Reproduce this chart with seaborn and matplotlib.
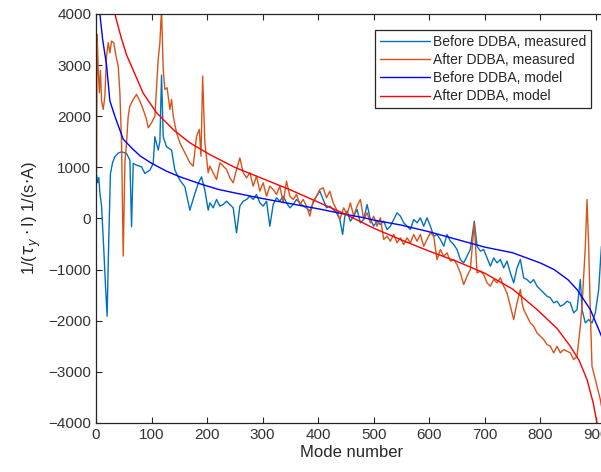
import numpy as np
import pandas as pd
import matplotlib
matplotlib.use('Agg')
import matplotlib.pyplot as plt
import seaborn as sns

# values (mode number, 1/(tau_y I))
before_meas_mode = [1, 3, 5, 7, 10, 14, 17, 20, 23, 26, 30, 34, 40, 46, 55, 61, 64, 67, 73, 82,
                    88, 97, 103, 106, 112, 115, 118, 121, 127, 136, 142, 151, 160, 169, 178, 184, 190, 196, 202, 205,
                    211, 217, 223, 229, 235, 241, 247, 253, 259, 265, 271, 277, 283, 289, 295, 301, 307, 313, 319, 325,
                    331, 337, 343, 349, 355, 361, 367, 373, 379, 385, 391, 397, 403, 409, 415, 421, 427, 433, 439, 444,
                    448, 452, 458, 464, 470, 476, 482, 488, 494, 500, 506, 512, 518, 524, 530, 536, 542, 548, 554, 560,
                    566, 572, 578, 584, 590, 596, 602, 608, 614, 620, 626, 632, 638, 644, 650, 656, 662, 668, 674, 681,
                    686, 692, 698, 704, 710, 716, 722, 728, 734, 740, 746, 752, 758, 764, 770, 776, 782, 788, 794, 800,
                    806, 812, 818, 824, 830, 836, 842, 848, 854, 860, 866, 872, 875, 881, 887, 893, 899, 905, 910]
before_meas_val = [861, 700, 800, 500, 241, -600, -1300, -1911, -400, 880, 1100, 1207, 1280, 1305, 1272, 1142, -162, 1077, 1044, 1011,
                   881, 946, 1077, 1599, 1338, 1500, 2805, 1599, 1403, 1338, 946, 750, 620, 163, 489, 685, 815, 554, 163, 307,
                   209, 372, 242, 274, 339, 274, 209, -280, 242, 339, 372, 437, 372, 470, 307, 242, 339, -151, 274, 405,
                   339, 437, 307, 209, 274, 372, 307, 242, 209, 144, 307, 437, 535, 372, 209, 242, 176, 111, -19, -313,
                   46, 144, -52, 46, 176, -85, -19, 274, -19, -150, -52, -118, -52, -215, -150, -19, 111, 46, -85, -150,
                   -215, -19, -85, 13, -150, 13, -150, -346, -313, -411, -542, -313, -444, -509, -607, -803, -868, -738, -600, -52,
                   -541, -639, -606, -770, -933, -770, -868, -802, -966, -835, -1063, -1259, -966, -802, -1161, -1194, -1259, -1194, -1324, -1389,
                   -1455, -1520, -1553, -1650, -1618, -1716, -1683, -1618, -1650, -1846, -1781, -1194, -1781, -2042, -1977, -2042, -1846, -1389, -541]

after_meas_mode = [1, 2, 4, 6, 8, 10, 13, 16, 19, 22, 25, 28, 32, 36, 40, 43, 46, 49, 52, 55,
                   58, 61, 67, 73, 79, 85, 91, 94, 100, 106, 112, 115, 118, 121, 124, 128, 133, 136, 139, 145,
                   151, 157, 163, 169, 175, 181, 186, 189, 192, 196, 202, 205, 211, 217, 223, 229, 235, 241, 247, 253,
                   259, 265, 271, 277, 283, 289, 295, 301, 307, 313, 319, 325, 331, 337, 343, 349, 355, 361, 367, 373,
                   379, 385, 391, 397, 403, 409, 415, 421, 427, 433, 439, 446, 452, 458, 464, 470, 476, 482, 488, 494,
                   500, 506, 512, 518, 524, 530, 536, 542, 548, 554, 560, 566, 572, 578, 584, 590, 596, 602, 608, 614,
                   620, 626, 632, 638, 644, 650, 656, 662, 668, 674, 681, 686, 692, 698, 704, 710, 716, 722, 728, 734,
                   740, 746, 752, 758, 764, 768, 770, 776, 782, 788, 794, 800, 806, 812, 818, 824, 830, 836, 842, 848,
                   854, 860, 866, 872, 875, 881, 884, 887, 890, 893, 899, 902, 905, 908, 910]
after_meas_val = [900, 3600, 2920, 2460, 2900, 2300, 2133, 2394, 3177, 3438, 3242, 3470, 3438, 3177, 2981, 2459, 1481, -735, 1090, 1481,
                  2003, 2199, 2330, 2427, 2296, 2133, 1937, 1774, 1872, 2003, 3112, 3438, 4100, 2916, 2525, 2557, 2133, 2330, 2003, 1677,
                  1481, 1350, 1220, 1090, 1024, 1611, 1742, 1220, 2785, 1481, 894, 1025, 894, 763, 1090, 1025, 959, 796, 698, 959,
                  1187, 894, 796, 894, 633, 829, 535, 698, 437, 633, 567, 470, 633, 307, 731, 437, 372, 470, 274, 372,
                  242, 46, 339, 437, 567, 600, 405, 535, 307, 176, -19, 209, 78, 307, 46, 242, 372, -19, 111, -85,
                  46, -150, 13, -411, -346, -444, -313, -476, -378, -509, -378, -476, -313, -444, -313, -542, -411, -280, -346, -803,
                  -607, -738, -672, -835, -803, -901, -1064, -1292, -1129, -999, -85, -1063, -1031, -1096, -1259, -1324, -1194, -1259, -1161, -1324,
                  -1455, -1716, -1977, -1650, -1389, -1700, -1781, -1911, -2042, -2107, -2238, -2303, -2368, -2466, -2499, -2629, -2499, -2629, -2564, -2597,
                  -2629, -2760, -2695, -2107, -1716, -541, 370, -541, -1846, -2890, -3151, -3281, -3411, -3542, -3672]

before_model_mode = [2, 7, 12, 19, 25, 34, 49, 67, 80, 100, 127, 150, 187, 220, 250, 300, 350, 400, 450,
                     480, 500, 550, 600, 650, 700, 750, 800, 825, 850, 866, 890, 910, 920]
before_model_val = [6000, 4000, 3500, 3000, 2300, 2000, 1550, 1350, 1220, 1080, 925, 820, 680, 570, 500, 390, 290, 190, 80,
                    20, -30, -130, -260, -410, -560, -670, -870, -1000, -1200, -1390, -1780, -2300, -2600]

after_model_mode = [30, 34, 45, 55, 67, 85, 109, 140, 169, 205, 250, 300, 350, 400, 450, 500, 550, 600,
                    650, 700, 750, 794, 830, 854, 870, 884, 895, 902, 910]
after_model_val = [4500, 4000, 3550, 3200, 2900, 2450, 2070, 1730, 1480, 1250, 1000, 780, 560, 320, 80, -190, -420, -640,
                   -840, -1070, -1380, -1780, -2150, -2500, -2780, -3150, -3600, -4000, -4600]

series = [
    ('Before DDBA, measured', before_meas_mode, before_meas_val, '#0072BD'),
    ('After DDBA, measured', after_meas_mode, after_meas_val, '#D95319'),
    ('Before DDBA, model', before_model_mode, before_model_val, '#0000FF'),
    ('After DDBA, model', after_model_mode, after_model_val, '#FF0000'),
]

sns.set_style('ticks')
plt.rcParams['font.family'] = ['Liberation Sans', 'DejaVu Sans']
plt.rcParams['mathtext.fontset'] = 'dejavusans'

fig = plt.figure(figsize=(6.01, 4.72), dpi=100)
ax = fig.add_axes([96 / 601, 49 / 472, 511 / 601, 409 / 472])

for name, m, v, c in series:
    df = pd.DataFrame({'mode': m, 'val': v})
    sns.lineplot(data=df, x='mode', y='val', ax=ax, color=c, linewidth=1.0,
                 label=name, sort=False, estimator=None)

ax.set_xlim(0, 920)
ax.set_ylim(-4000, 4000)
ax.set_xticks(np.arange(0, 901, 100))
ax.set_yticks(np.arange(-4000, 4001, 1000))
ax.tick_params(direction='in', length=4, width=0.8, colors='#262626',
               labelsize=11, top=True, labelcolor='#333333')
for s in ax.spines.values():
    s.set_color('#262626')
    s.set_linewidth(0.9)
ax.set_xlabel('Mode number', fontsize=12, color='#262626', labelpad=2)
ax.set_ylabel(r'1/($\tau_y\cdot$I) 1/(s$\cdot$A)', fontsize=12, color='#262626', labelpad=4)

leg = ax.legend(loc='upper left', bbox_to_anchor=(375 / 601, 1 - 30 / 472),
                bbox_transform=fig.transFigure, borderaxespad=0, fontsize=10,
                handlelength=3.6, handletextpad=0.2, labelspacing=0.3,
                fancybox=False, framealpha=1, edgecolor='#262626', borderpad=0.35)
leg.get_frame().set_linewidth(0.9)
for t in leg.get_texts():
    t.set_color('#262626')

fig.savefig('out.png', dpi=100, facecolor='white')
